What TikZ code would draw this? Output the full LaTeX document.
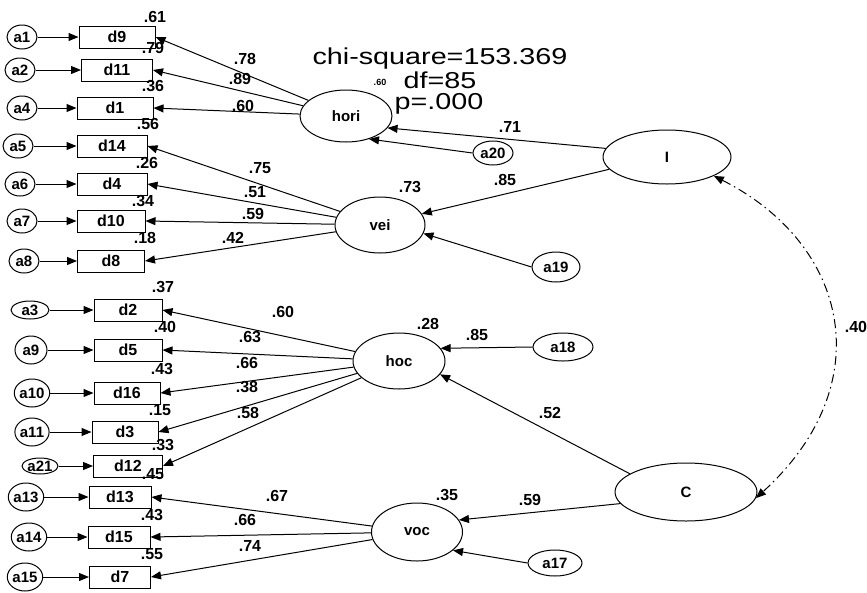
\documentclass[tikz,border=0pt]{standalone}
\usepackage{fontspec}
\setmainfont{Liberation Sans}
\newfontfamily\widesans[FakeStretch=1.25]{Liberation Sans}
\usetikzlibrary{arrows.meta,shapes.geometric}

\tikzset{
  obs/.style={draw,rectangle,minimum height=22pt,inner sep=0pt,
    font=\fontsize{16}{16}\selectfont\bfseries},
  err/.style={draw,ellipse,inner sep=0pt,
    font=\fontsize{15}{15}\selectfont\bfseries},
  lat/.style={draw,ellipse,inner sep=0pt,
    font=\fontsize{15}{15}\selectfont\bfseries},
  coef/.style={inner sep=0pt,font=\fontsize{16}{16}\selectfont\bfseries},
  fitstat/.style={inner sep=0pt,font=\widesans\fontsize{23}{23}\selectfont},
}

\begin{document}
\begin{tikzpicture}[x=1pt,y=-1pt,line width=1pt,>={Triangle[length=10pt,width=8pt]}]
\useasboundingbox (0,0) rectangle (867,592);
% ---------- fit statistics ----------
\node[fitstat] (chi) at (440,59) {chi-square=153.369};
\node[fitstat] (df) at (440,80) {df=85};
\node[fitstat] (p) at (439,104) {p=.000};
% ---------- latent variables ----------
\node[lat,minimum width=92pt,minimum height=52pt] (hori) at (346,116) {hori};
\node[lat,minimum width=90pt,minimum height=56pt] (vei) at (380,225) {vei};
\node[lat,minimum width=92pt,minimum height=56pt] (hoc) at (399,361) {hoc};
\node[lat,minimum width=91pt,minimum height=58pt] (voc) at (417,532) {voc};
\node[lat,minimum width=128pt,minimum height=54pt] (I) at (667,157) {I};
\node[lat,minimum width=142pt,minimum height=58pt] (C) at (686,492) {C};
% residuals of the latent variables
\node[err,minimum width=40pt,minimum height=24pt] (a20) at (493,153) {a20};
\node[err,minimum width=48pt,minimum height=30pt] (a19) at (556,267) {a19};
\node[err,minimum width=60pt,minimum height=28pt] (a18) at (563,347) {a18};
\node[err,minimum width=54pt,minimum height=26pt] (a17) at (555,563) {a17};
% ---------- indicators with their errors ----------
\foreach \d/\bx/\bw/\e/\ex/\ew/\eh/\y in {
  d9/117/76/a1/22/30/24/37, d11/117/71/a2/20/30/24/70,
  d1/115/76/a4/22/30/24/108, d14/112/70/a5/18/30/24/146,
  d4/112/70/a6/20/30/24/184, d10/111/68/a7/22/30/24/221,
  d8/111/67/a8/24/30/24/261,
  d2/128/68/a3/30/38/18/310, d5/128/68/a9/31/32/28/350,
  d16/127/66/a10/32/30/28/393, d3/125/66/a11/32/30/28/432,
  d12/128/69/a21/40/36/16/466,
  d13/120/62/a13/26/30/28/497, d15/119/62/a14/29/30/28/537,
  d7/120/61/a15/25/30/28/577}{
  \node[obs,minimum width=\bw pt] (\d) at (\bx,\y) {\d};
  \node[err,minimum width=\ew pt,minimum height=\eh pt] (\e) at (\ex,\y) {\e};
  \draw[->] (\e) -- (\d.west);
}
% ---------- loadings ----------
\foreach \d in {d9,d11,d1} \draw[->] (hori) -- (\d.east);
\foreach \d in {d14,d4,d10,d8} \draw[->] (vei) -- (\d.east);
\foreach \d in {d2,d5,d16,d3,d12} \draw[->] (hoc) -- (\d.east);
\foreach \d in {d13,d15,d7} \draw[->] (voc) -- (\d.east);
% ---------- structural paths ----------
\draw[->] (I.172) -- (hori.-16);
\draw[->] (a20.west) -- (hori.-45);
\draw[->] (I.192) -- (vei.15);
\draw[->] (a19.west) -- (vei.-11);
\draw[->] (a18.west) -- (hoc.17);
\draw[->] (C.162) -- (hoc.-18);
\draw[->] (C.190) -- (voc.16);
\draw[->] (a17.west) -- (voc.-27);
% correlation I -- C
\draw[<->,dash pattern=on 9pt off 4pt on 1.5pt off 4pt]
  (I.-22) .. controls (850,245) and (880,385) .. (C.-5);
% ---------- estimates ----------
\foreach \v/\x/\y [count=\i] in {
  .61/155/17, .79/153/48, .36/153/86, .56/148/124, .26/147/163,
  .34/143/201, .18/145/238,
  .37/163/287, .40/165/327, .43/162/369, .15/160/410, .33/163/445,
  .45/153/474, .43/152/515, .55/152/554,
  .78/245/59, .89/240/79, .60/243/106,
  .75/260/168, .51/255/192, .59/253/214, .42/233/238,
  .60/283/312, .63/250/337, .66/247/363, .38/247/387, .58/248/413,
  .67/277/496, .66/245/520, .74/250/546,
  .71/510/127, .85/505/180, .85/477/335, .52/550/413, .59/530/500,
  .40/856/327, .73/410/187, .28/428/324, .35/447/495}
  \node[coef] (est\i) at (\x,\y) {\v};
\node[inner sep=0pt,font=\fontsize{9}{9}\selectfont\bfseries] (r-hori) at (380,82) {.60};
\end{tikzpicture}
\end{document}
